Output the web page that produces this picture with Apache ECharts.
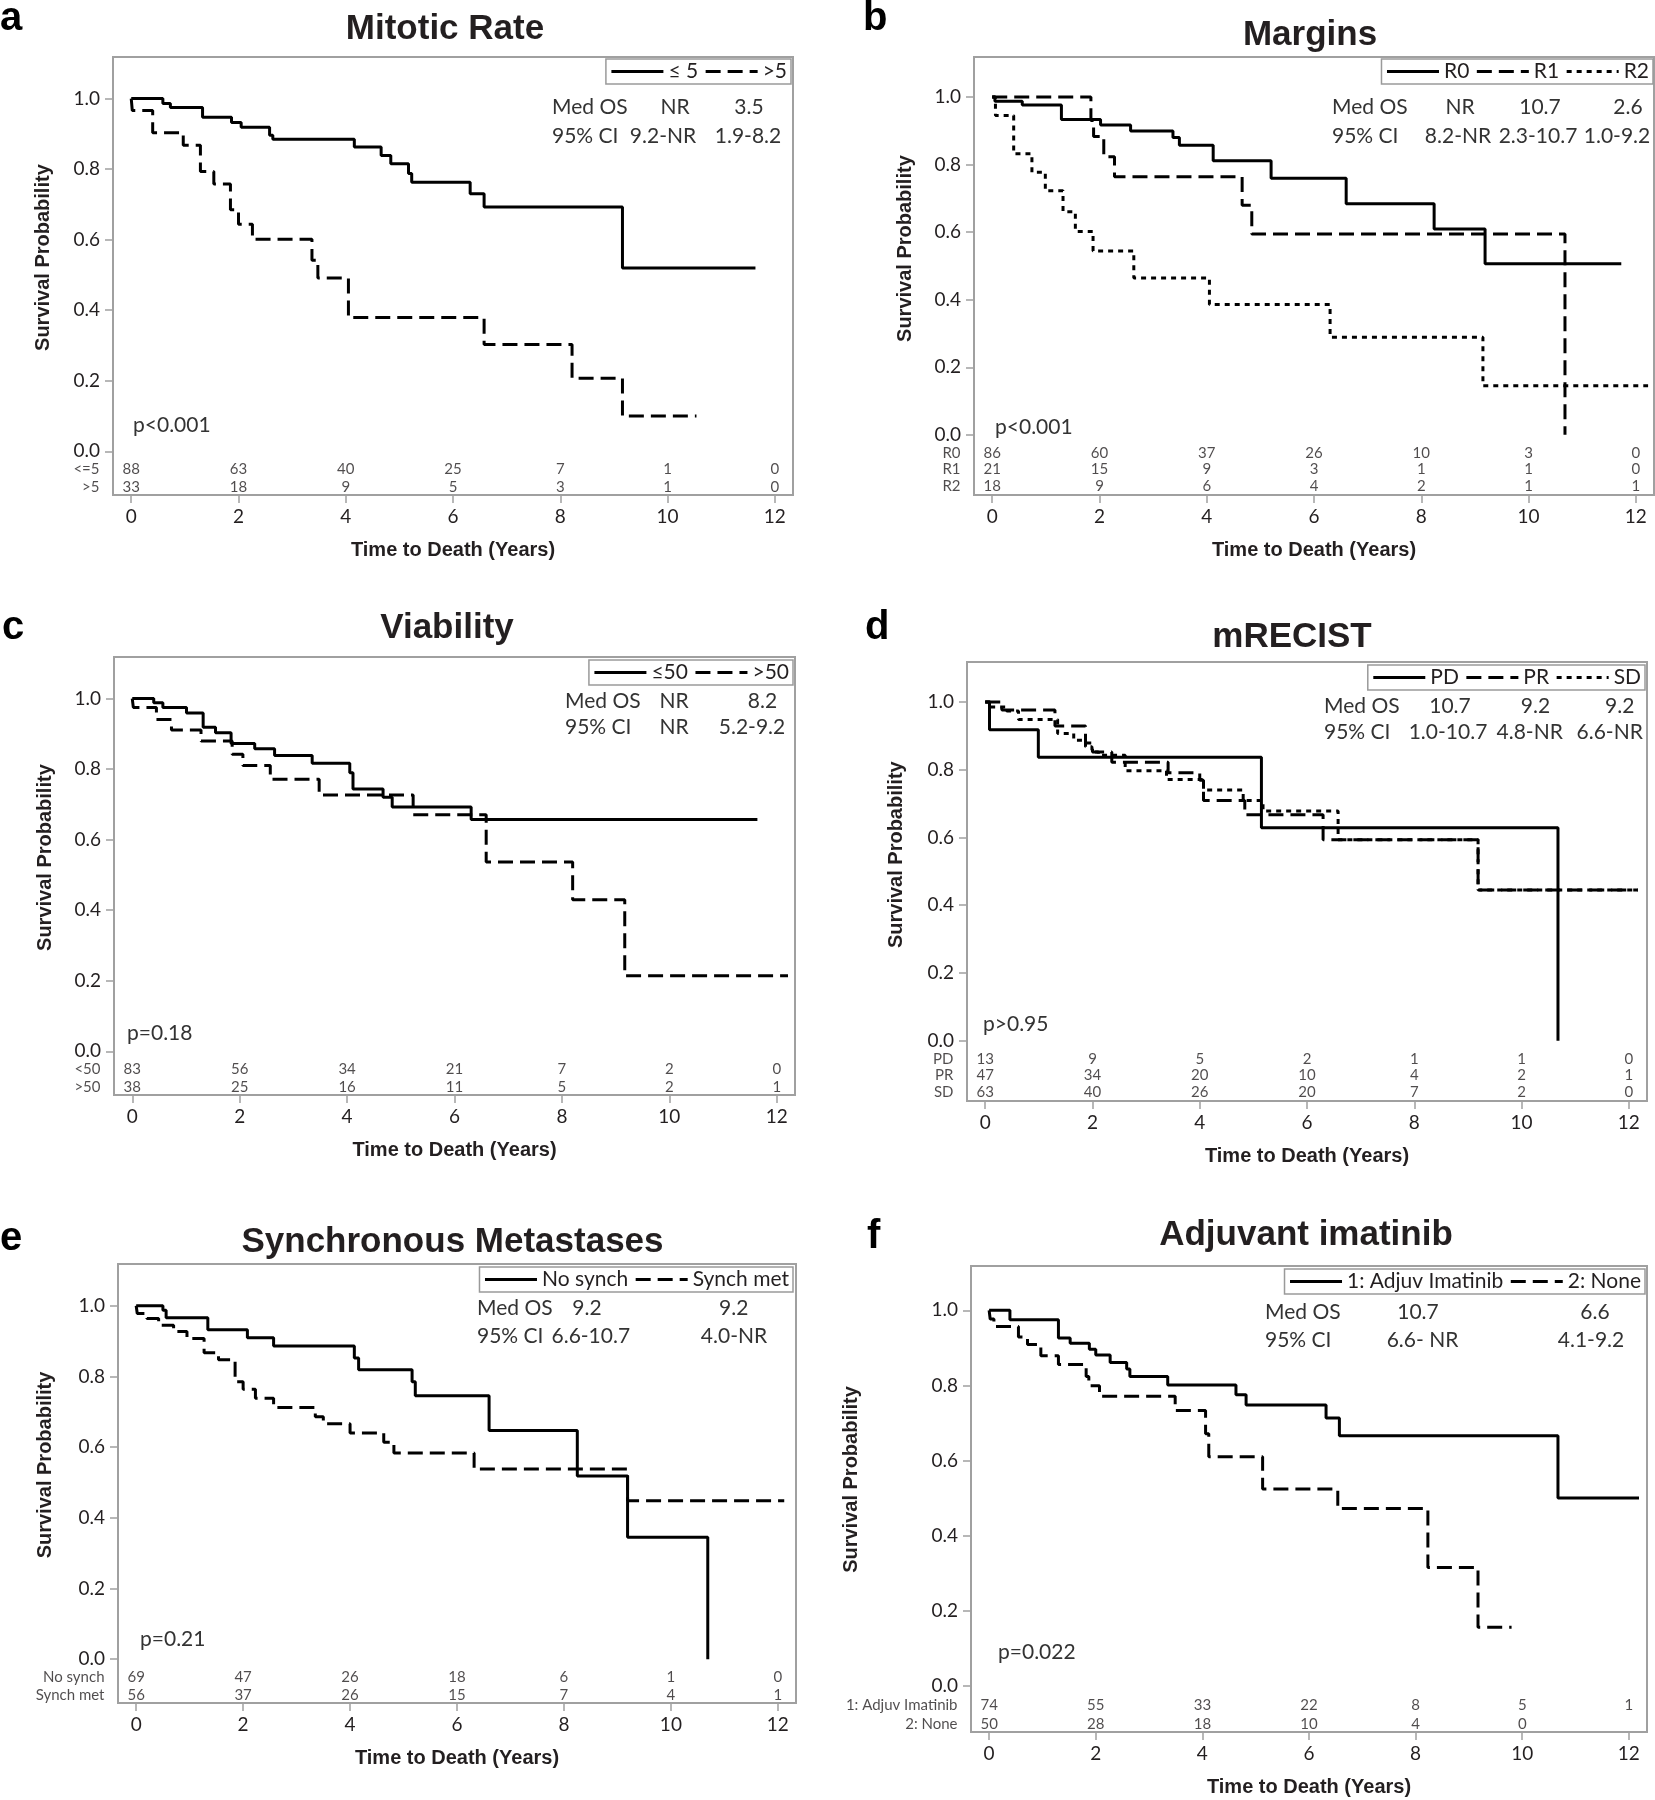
<!DOCTYPE html>
<html><head><meta charset="utf-8">
<script src="https://cdn.jsdelivr.net/npm/echarts@6/dist/echarts.min.js"></script>
<style>html,body{margin:0;padding:0;background:#fff}#c{width:1655px;height:1800px}</style>
</head><body><div id="c"></div>
<script>
// ================= DATA =================
const xTicks = [0, 2, 4, 6, 8, 10, 12];
const yTicks = [0, 0.2, 0.4, 0.6, 0.8, 1.0];

// a: Mitotic Rate  [time (years), survival]
const mitoticLe5 = [[0,1.0],[0.59,0.986],[0.73,0.975],[1.33,0.947],[1.87,0.932],[2.05,0.919],[2.58,0.896],[2.64,0.885],[4.16,0.863],[4.66,0.839],[4.84,0.815],[5.17,0.788],[5.23,0.763],[6.32,0.730],[6.58,0.693],[9.16,0.520],[11.64,0.520]];
const mitoticGt5 = [[0,1.0],[0.02,0.966],[0.40,0.903],[0.97,0.868],[1.29,0.793],[1.54,0.758],[1.85,0.685],[2.00,0.644],[2.26,0.601],[3.37,0.542],[3.48,0.491],[4.05,0.379],[6.58,0.303],[8.22,0.207],[9.16,0.100],[10.54,0.100]];
const riskMitoticLe5 = [88, 63, 40, 25, 7, 1, 0];
const riskMitoticGt5 = [33, 18, 9, 5, 3, 1, 0];
const statsMitotic = [['Med OS','NR','3.5'],['95% CI','9.2-NR','1.9-8.2']];

// b: Margins
const marginsR0 = [[0,1.0],[0.05,0.987],[0.56,0.976],[1.29,0.933],[2.02,0.917],[2.58,0.899],[3.37,0.880],[3.49,0.857],[4.12,0.811],[5.20,0.759],[6.60,0.684],[8.24,0.609],[9.19,0.506],[11.73,0.506]];
const marginsR1 = [[0,1.0],[1.84,0.930],[1.89,0.883],[2.08,0.823],[2.28,0.764],[4.66,0.679],[4.84,0.594],[10.68,0.0]];
const marginsR2 = [[0,1.0],[0.06,0.945],[0.40,0.832],[0.74,0.777],[0.99,0.722],[1.32,0.660],[1.55,0.602],[1.88,0.544],[2.64,0.464],[4.05,0.386],[6.30,0.289],[9.15,0.145],[12.23,0.145]];
const riskR0 = [86, 60, 37, 26, 10, 3, 0];
const riskR1 = [21, 15, 9, 3, 1, 1, 0];
const riskR2 = [18, 9, 6, 4, 2, 1, 1];
const statsMargins = [['Med OS','NR','10.7','2.6'],['95% CI','8.2-NR','2.3-10.7','1.0-9.2']];

// c: Viability
const viabLe50 = [[0,1.0],[0.40,0.988],[0.57,0.975],[1.01,0.959],[1.32,0.919],[1.55,0.903],[1.84,0.873],[2.28,0.858],[2.65,0.839],[3.35,0.817],[4.05,0.790],[4.11,0.744],[4.67,0.720],[4.84,0.693],[6.31,0.657],[11.64,0.657]];
const viabGt50 = [[0,1.0],[0.02,0.975],[0.45,0.941],[0.73,0.911],[1.28,0.880],[1.86,0.842],[2.06,0.810],[2.57,0.771],[3.48,0.727],[5.23,0.671],[6.59,0.537],[8.20,0.430],[9.17,0.214],[12.21,0.214]];
const riskViabLe50 = [83, 56, 34, 21, 7, 2, 0];
const riskViabGt50 = [38, 25, 16, 11, 5, 2, 1];
const statsViability = [['Med OS','NR','8.2'],['95% CI','NR','5.2-9.2']];

// d: mRECIST
const recistPD = [[0,1.0],[0.08,0.918],[0.99,0.837],[5.15,0.629],[10.68,0.0]];
const recistPR = [[0,1.0],[0.31,0.976],[1.30,0.929],[1.87,0.879],[2.00,0.852],[2.36,0.822],[3.41,0.791],[4.00,0.769],[4.07,0.709],[4.84,0.667],[6.30,0.593],[9.19,0.445],[12.17,0.445]];
const recistSD = [[0,1.0],[0.09,0.985],[0.40,0.973],[0.62,0.948],[1.35,0.907],[1.65,0.887],[1.87,0.868],[1.99,0.852],[2.11,0.843],[2.61,0.797],[3.38,0.771],[4.07,0.740],[4.81,0.709],[5.18,0.678],[6.58,0.593],[9.19,0.445],[12.17,0.445]];
const riskPD = [13, 9, 5, 2, 1, 1, 0];
const riskPR = [47, 34, 20, 10, 4, 2, 1];
const riskSD = [63, 40, 26, 20, 7, 2, 0];
const statsRecist = [['Med OS','10.7','9.2','9.2'],['95% CI','1.0-10.7','4.8-NR','6.6-NR']];

// e: Synchronous Metastases
const synchNo = [[0,1.0],[0.50,0.987],[0.56,0.966],[1.34,0.932],[2.08,0.909],[2.57,0.886],[4.08,0.852],[4.16,0.819],[5.16,0.785],[5.22,0.745],[6.60,0.647],[8.25,0.518],[9.19,0.345],[10.69,0.0]];
const synchMet = [[0,1.0],[0.02,0.978],[0.20,0.964],[0.42,0.945],[0.70,0.927],[0.95,0.907],[1.27,0.867],[1.54,0.847],[1.85,0.785],[2.00,0.764],[2.23,0.738],[2.57,0.712],[3.35,0.686],[3.50,0.666],[4.00,0.640],[4.63,0.614],[4.82,0.583],[6.32,0.538],[9.19,0.448],[12.12,0.448]];
const riskSynchNo = [69, 47, 26, 18, 6, 1, 0];
const riskSynchMet = [56, 37, 26, 15, 7, 4, 1];
const statsSynch = [['Med OS','9.2','9.2'],['95% CI','6.6-10.7','4.0-NR']];

// f: Adjuvant imatinib
const adjuvYes = [[0,1.0],[0.39,0.975],[1.30,0.926],[1.52,0.912],[1.88,0.896],[2.00,0.881],[2.27,0.861],[2.58,0.844],[2.64,0.824],[3.35,0.801],[4.63,0.775],[4.82,0.748],[6.32,0.713],[6.57,0.666],[10.67,0.500],[12.19,0.500]];
const adjuvNone = [[0,1.0],[0.02,0.977],[0.09,0.957],[0.55,0.929],[0.72,0.909],[0.97,0.879],[1.30,0.856],[1.82,0.824],[1.87,0.799],[2.07,0.771],[3.49,0.733],[4.06,0.671],[4.12,0.610],[5.13,0.524],[6.54,0.472],[8.23,0.315],[9.17,0.156],[9.80,0.156]];
const riskAdjuvYes = [74, 55, 33, 22, 8, 5, 1];
const riskAdjuvNone = [50, 28, 18, 10, 4, 0];
const statsAdjuv = [['Med OS','10.7','6.6'],['95% CI','6.6- NR','4.1-9.2']];

// ================= LAYOUT / STYLE =================
const FONT = 'Lato';
const BOLDFONT = '"Liberation Sans"';
const TXT = '#231f20';
const FRAME = '#a0a0a0';
const DASH = {solid: 'solid', dashed: [15, 7], dotted: [5, 5]};
const XMIN = -0.34, XMAX = 12.34, YMAX = 1.118;
const ROWS2 = [-0.052, -0.102], ROWS3 = [-0.053, -0.103, -0.153];

const panels = [
  {letter:'a', letterPos:[0,19], title:'Mitotic Rate', titlePos:[445,29],
   grid:{left:113, top:57, width:680, height:438}, ymin:-0.124,
   curves:[['≤ 5', mitoticLe5, 'solid'], ['>5', mitoticGt5, 'dashed']],
   risk:[['<=5', riskMitoticLe5], ['>5', riskMitoticGt5]], riskY:ROWS2,
   stats:statsMitotic, statsX:[[552,675,749],[552,663,748]], statsY:[107.6,136],
   p:'p<0.001', pPos:[133,425], yTitle:[43.5,257.6], legend:{right:864, top:59}},
  {letter:'b', letterPos:[863,19], title:'Margins', titlePos:[1310,35],
   grid:{left:974, top:57, width:680, height:438}, ymin:-0.178,
   curves:[['R0', marginsR0, 'solid'], ['R1', marginsR1, 'dashed'], ['R2', marginsR2, 'dotted']],
   risk:[['R0', riskR0], ['R1', riskR1], ['R2', riskR2]], riskY:ROWS3,
   stats:statsMargins, statsX:[[1332,1460,1540,1628],[1332,1458,1538,1617]], statsY:[107.6,136],
   p:'p<0.001', pPos:[995,427], yTitle:[905,248.6], legend:{right:2, top:59}},
  {letter:'c', letterPos:[2,628], title:'Viability', titlePos:[447,628],
   grid:{left:114, top:657, width:681, height:438}, ymin:-0.124,
   curves:[['≤50', viabLe50, 'solid'], ['>50', viabGt50, 'dashed']],
   risk:[['<50', riskViabLe50], ['>50', riskViabGt50]], riskY:ROWS2,
   stats:statsViability, statsX:[[565,674,762.5],[565,674,752]], statsY:[701.6,727.4],
   p:'p=0.18', pPos:[127,1033.7], yTitle:[45,857.6], legend:{right:862, top:660}},
  {letter:'d', letterPos:[865,628], title:'mRECIST', titlePos:[1292,637],
   grid:{left:967, top:662, width:680, height:439}, ymin:-0.178,
   curves:[['PD', recistPD, 'solid'], ['PR', recistPR, 'dashed'], ['SD', recistSD, 'dotted']],
   risk:[['PD', riskPD], ['PR', riskPR], ['SD', riskSD]], riskY:ROWS3,
   stats:statsRecist, statsX:[[1324,1450,1535.5,1619.7],[1324,1448,1529.7,1609.7]], statsY:[706.7,732.7],
   p:'p>0.95', pPos:[983,1024], yTitle:[896.5,854.7], legend:{right:10, top:665}},
  {letter:'e', letterPos:[0,1239], title:'Synchronous Metastases', titlePos:[452.5,1242],
   grid:{left:118, top:1264, width:678, height:439}, ymin:-0.124,
   curves:[['No synch', synchNo, 'solid'], ['Synch met', synchMet, 'dashed']],
   risk:[['No synch', riskSynchNo], ['Synch met', riskSynchMet]], riskY:ROWS2,
   stats:statsSynch, statsX:[[477,587,733.7],[477,590.8,734]], statsY:[1308.7,1336],
   p:'p=0.21', pPos:[140,1639.3], yTitle:[45,1465], legend:{right:862, top:1267}},
  {letter:'f', letterPos:[867,1237], title:'Adjuvant imatinib', titlePos:[1306,1235],
   grid:{left:971, top:1266, width:676, height:466}, ymin:-0.123,
   curves:[['1: Adjuv Imatinib', adjuvYes, 'solid'], ['2: None', adjuvNone, 'dashed']],
   risk:[['1: Adjuv Imatinib', riskAdjuvYes], ['2: None', riskAdjuvNone]], riskY:ROWS2,
   stats:statsAdjuv, statsX:[[1265,1418,1595],[1265,1422.5,1591]], statsY:[1312,1340.5],
   p:'p=0.022', pPos:[998,1652.5], yTitle:[851,1479.5], legend:{right:10, top:1269}}
];

// ================= BUILD OPTION =================
const option = {
  animation: false, backgroundColor: '#ffffff',
  grid: [], xAxis: [], yAxis: [], series: [], legend: [], graphic: {elements: []}
};
const G = option.graphic.elements;
function txt(x, y, text, font, align, color, rot) {
  const el = {type:'text', x:x, y:y, silent:true,
    style:{text:text, font:font, fill:color || TXT, textAlign:align || 'left', textVerticalAlign:'middle'}};
  if (rot) el.rotation = rot;
  G.push(el);
}

panels.forEach((P, i) => {
  option.grid.push(Object.assign({show:true, borderColor:FRAME, borderWidth:2,
    backgroundColor:'transparent', containLabel:false, outerBoundsMode:'none'}, P.grid));
  option.xAxis.push({gridIndex:i, type:'value', min:XMIN, max:XMAX,
    axisLine:{show:false, onZero:false}, splitLine:{show:false},
    axisTick:{show:true, customValues:xTicks, length:8, lineStyle:{color:FRAME, width:1.5}},
    axisLabel:{show:true, customValues:xTicks, fontFamily:FONT, fontSize:19, color:TXT, margin:12},
    name:'Time to Death (Years)', nameLocation:'middle', nameGap:45,
    nameTextStyle:{fontFamily:'Liberation Sans', fontWeight:'bold', fontSize:20, color:TXT}});
  option.yAxis.push({gridIndex:i, type:'value', min:P.ymin, max:YMAX,
    axisLine:{show:false, onZero:false}, splitLine:{show:false},
    axisTick:{show:true, customValues:yTicks, length:8, lineStyle:{color:FRAME, width:1.5}},
    axisLabel:{show:true, customValues:yTicks, formatter:v => Number(v).toFixed(1),
      fontFamily:FONT, fontSize:19, color:TXT, margin:13}});

  P.curves.forEach(c => {
    option.series.push({type:'line', name:c[0], xAxisIndex:i, yAxisIndex:i, data:c[1],
      step:'end', symbol:'none', showSymbol:false, silent:true, z:3,
      lineStyle:{color:'#000', width:3, type:DASH[c[2]]}, itemStyle:{color:'#000'}});
  });

  option.legend.push({data:P.curves.map(c => c[0]), right:P.legend.right, top:P.legend.top,
    orient:'horizontal', selectedMode:false, itemWidth:52, itemHeight:14, itemGap:6,
    padding:[2,4,2,4], borderColor:'#9a9a9a', borderWidth:1.5, backgroundColor:'#fff',
    textStyle:{fontFamily:FONT, fontSize:21, color:TXT},
    itemStyle:{opacity:0}, lineStyle:{width:3}});

  P.risk.forEach((r, k) => {
    const yv = P.riskY[k];
    option.series.push({type:'scatter', name:'risk-' + i + '-' + k, xAxisIndex:i, yAxisIndex:i,
      symbolSize:1, itemStyle:{color:'rgba(0,0,0,0)'}, silent:true, clip:false, z:5,
      data:r[1].map((v, j) => ({value:[xTicks[j], yv], name:String(v)})),
      label:{show:true, position:'inside', formatter:p => p.name, fontFamily:FONT, fontSize:15, color:TXT}});
    option.series.push({type:'scatter', name:'risklab-' + i + '-' + k, xAxisIndex:i, yAxisIndex:i,
      symbolSize:1, itemStyle:{color:'rgba(0,0,0,0)'}, silent:true, clip:false, z:5,
      data:[{value:[XMIN, yv], name:r[0]}],
      label:{show:true, position:'left', distance:13, formatter:p => p.name, fontFamily:FONT, fontSize:15, color:TXT}});
  });

  // texts
  txt(P.letterPos[0], P.letterPos[1], P.letter, 'bold 40px ' + BOLDFONT, 'left', '#000');
  txt(P.titlePos[0], P.titlePos[1], P.title, 'bold 35px ' + BOLDFONT, 'center');
  txt(P.yTitle[0], P.yTitle[1], 'Survival Probability', 'bold 20px ' + BOLDFONT, 'center', TXT, Math.PI / 2);
  P.stats.forEach((row, r) => {
    row.forEach((s, cIdx) => {
      txt(P.statsX[r][cIdx], P.statsY[r], s, '21px Lato', cIdx === 0 ? 'left' : 'center', '#333');
    });
  });
  txt(P.pPos[0], P.pPos[1], P.p, '21px Lato', 'left', '#333');
});

const chart = echarts.init(document.getElementById('c'), null, {renderer:'canvas', width:1655, height:1800});
chart.setOption(option);
</script>
</body></html>
